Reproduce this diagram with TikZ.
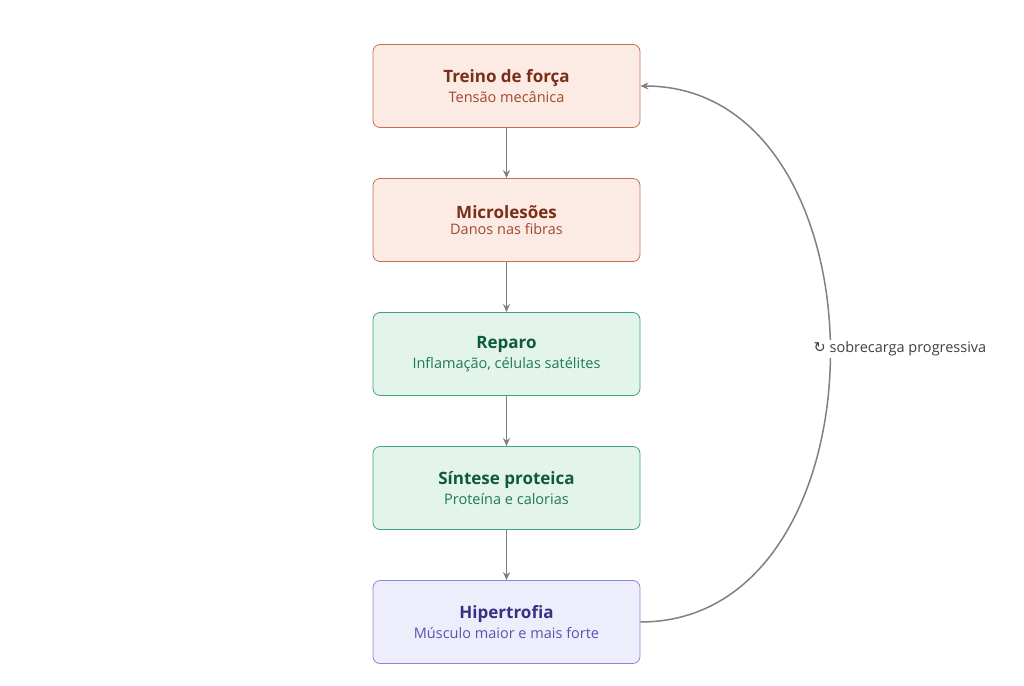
\documentclass[tikz,border=0pt]{standalone}
\usepackage{fontspec}
\setmainfont{Open Sans}
\newfontfamily\symfont{DejaVu Sans}
\usetikzlibrary{arrows.meta, positioning}
\definecolor{orangefill}{HTML}{FBEBE4}
\definecolor{orangeline}{HTML}{C8704E}
\definecolor{orangetitle}{HTML}{7A2E18}
\definecolor{orangesub}{HTML}{A3482A}
\definecolor{greenfill}{HTML}{E2F4EC}
\definecolor{greenline}{HTML}{3FA476}
\definecolor{greentitle}{HTML}{0F5A3A}
\definecolor{greensub}{HTML}{1F7A50}
\definecolor{purplefill}{HTML}{EEEDFC}
\definecolor{purpleline}{HTML}{8C86D8}
\definecolor{purpletitle}{HTML}{3A2F80}
\definecolor{purplesub}{HTML}{5C52B0}
\definecolor{linkcolor}{HTML}{808080}
\tikzset{
  stage/.style={draw, rounded corners=7pt, minimum width=267pt, minimum height=83pt, align=center, line width=0.8pt},
  orangestage/.style={stage, fill=orangefill, draw=orangeline},
  greenstage/.style={stage, fill=greenfill, draw=greenline},
  purplestage/.style={stage, fill=purplefill, draw=purpleline},
  link/.style={-{Stealth[length=8pt,width=7pt]}, line width=1.5pt, linkcolor}
}
\newcommand{\stagetext}[4]{{\fontsize{17}{20}\selectfont\bfseries\color{#1}#2}\\[4pt]{\fontsize{14.5}{17}\selectfont\color{#3}#4}}
\begin{document}
\begin{tikzpicture}[x=1pt, y=-1pt]
        \useasboundingbox (0,0) rectangle (1024,685);
        % Stages
        \node[orangestage] (treino) at (506.5,86) {\stagetext{orangetitle}{Treino de força}{orangesub}{Tensão mecânica}};
        \node[orangestage] (micro) at (506.5,220) {\stagetext{orangetitle}{Microlesões}{orangesub}{Danos nas fibras}};
        \node[greenstage] (reparo) at (506.5,354) {\stagetext{greentitle}{Reparo}{greensub}{Inflamação, células satélites}};
        \node[greenstage] (sintese) at (506.5,488) {\stagetext{greentitle}{Síntese proteica}{greensub}{Proteína e calorias}};
        \node[purplestage] (hiper) at (506.5,622) {\stagetext{purpletitle}{Hipertrofia}{purplesub}{Músculo maior e mais forte}};
        
        % Connections
        \draw[link] (treino) -- (micro);
        \draw[link] (micro) -- (reparo);
        \draw[link] (reparo) -- (sintese);
        \draw[link] (sintese) -- (hiper);
        
        % Feedback loop
        \draw[link] (hiper.east) .. controls (893,622) and (893,86) .. (treino.east);
        \node[fill=white, font=\fontsize{14.5}{17}\selectfont, text=black!75, inner sep=2pt] (loop) at (900,349) {{\symfont ↻} sobrecarga progressiva};
    \end{tikzpicture}
\end{document}
